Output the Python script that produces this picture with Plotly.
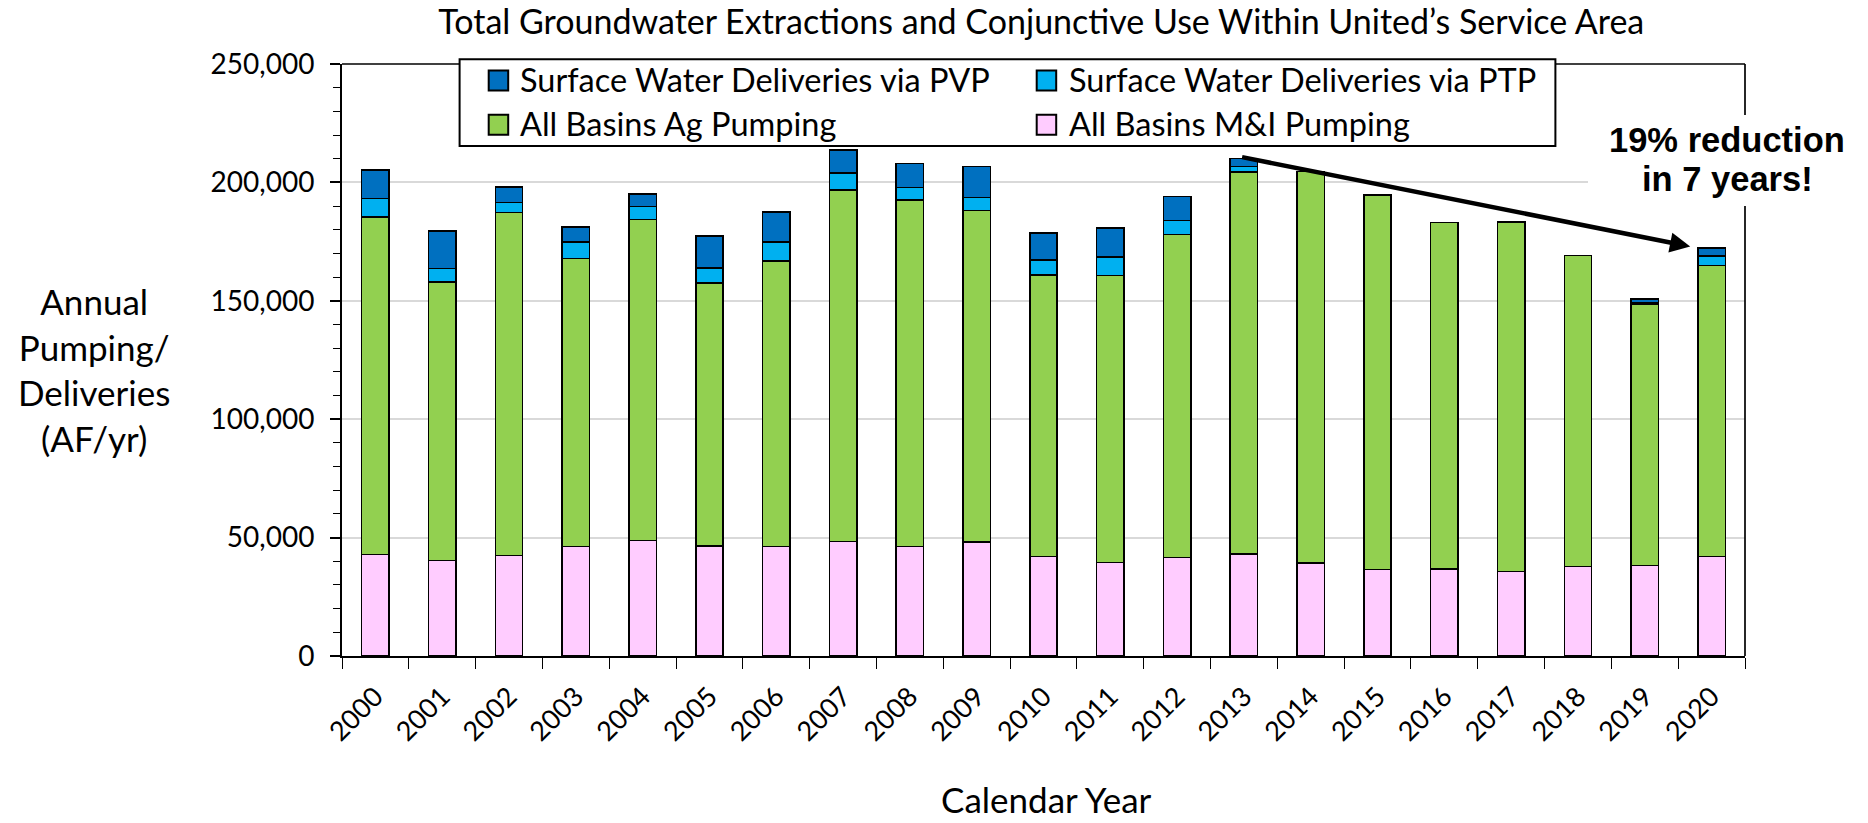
import plotly.graph_objects as go

years = list(range(2000, 2021))
mi_pumping = [42800, 40300, 42400, 46300, 48700, 46500, 46300, 48300, 46200, 48200, 42100,
              39400, 41600, 43100, 39200, 36500, 36800, 35700, 37800, 38200, 42000]
ag_pumping = [142600, 117600, 144900, 121600, 135600, 111100, 120600, 148400, 146300, 139900, 118900,
              121300, 136300, 161200, 165400, 158200, 146300, 147600, 131300, 110400, 122900]
ptp_deliveries = [7900, 5700, 4300, 6900, 5500, 6200, 8000, 7300, 5300, 5600, 6200,
                  7700, 6100, 2400, None, None, None, None, None, 700, 4100]
pvp_deliveries = [11900, 15800, 6500, 6300, 5200, 13500, 12700, 9600, 10100, 13000, 11500,
                  12300, 10000, 3500, None, None, None, None, None, 1400, 3250]

series_names = ["All Basins M&I Pumping", "All Basins Ag Pumping",
                "Surface Water Deliveries via PTP", "Surface Water Deliveries via PVP"]
series_values = [mi_pumping, ag_pumping, ptp_deliveries, pvp_deliveries]
series_colors = ["#FFCCFF", "#92D050", "#00B0F0", "#0070C0"]

y_ticks = [0, 50000, 100000, 150000, 200000, 250000]

arrow_start = (2012.95, 210800)
arrow_end = (2019.68, 172900)
callout_lines = ["19% reduction", "in 7 years!"]

CAL = "Lato, 'Open Sans', sans-serif"
ARIAL = "'Liberation Sans', Arial, sans-serif"

W, H = 1868, 823
L, R, T, B = 342, 1745, 64, 656.5


def px(x):  # page pixel -> paper x
    return (x - L) / (R - L)


def py(y):  # page pixel -> paper y
    return (B - y) / (B - T)


fig = go.Figure()
for name, vals, col in zip(series_names, series_values, series_colors):
    fig.add_trace(go.Bar(
        x=years, y=vals, name=name, width=0.41, showlegend=False,
        marker=dict(color=col, line=dict(color="black", width=1.5)),
    ))

fig.update_layout(
    width=W, height=H,
    margin=dict(l=L, r=W - R, t=T, b=H - B, pad=0),
    barmode="stack",
    plot_bgcolor="white", paper_bgcolor="white",
    font=dict(family=CAL, color="black", size=28),
    title=dict(text="Total Groundwater Extractions and Conjunctive Use Within United\u2019s Service Area",
               x=1041.3 / W, xanchor="center", y=1 - 22 / H, yanchor="middle",
               font=dict(family=CAL, size=34, color="black")),
    showlegend=False,
    xaxis=dict(range=[1999.5, 2020.5], tickmode="array", tickvals=years,
               ticktext=[str(y) for y in years], tickangle=-45, ticks="",
               ticklabelstandoff=12,
               showline=True, linecolor="black", linewidth=2, showgrid=False, zeroline=False,
               tickfont=dict(family=CAL, size=27, color="black"),
               minor=dict(tick0=1999.5, dtick=1, ticks="outside", ticklen=11,
                          tickcolor="black", tickwidth=1.2, showgrid=False)),
    yaxis=dict(range=[0, 250000], tickmode="array", tickvals=y_ticks, tickformat=",",
               ticks="outside", ticklen=10, tickcolor="black", tickwidth=1.5,
               ticklabelstandoff=10,
               showline=True, linecolor="black", linewidth=2,
               showgrid=True, gridcolor="#D9D9D9", gridwidth=2, zeroline=False,
               tickfont=dict(family=CAL, size=28, color="black"),
               minor=dict(dtick=10000, ticks="outside", ticklen=7, tickcolor="black",
                          tickwidth=1.2, showgrid=False)),
)

# top & right frame lines
fig.add_shape(type="line", xref="paper", yref="paper", x0=0, x1=1, y0=1, y1=1,
              line=dict(color="black", width=1.7), layer="above")
fig.add_shape(type="line", xref="paper", yref="paper", x0=1, x1=1, y0=0, y1=1,
              line=dict(color="black", width=1.7), layer="above")

# white box behind the callout text
fig.add_shape(type="rect", xref="paper", yref="paper",
              x0=px(1588), x1=px(1868), y0=py(206), y1=py(115),
              fillcolor="white", line=dict(width=0), layer="above")

# legend (box, swatches, labels)
fig.add_shape(type="rect", xref="paper", yref="paper",
              x0=px(459.6), x1=px(1555.4), y0=py(146), y1=py(59.3),
              fillcolor="white", line=dict(color="black", width=2), layer="above")
legend_order = [3, 2, 1, 0]  # PVP, PTP / Ag, M&I
col_sym_x = [488.7, 1036.7]
col_txt_x = [517.8, 1066.5]
row_y = [80.5, 124.8]
for k, idx in enumerate(legend_order):
    r, c = divmod(k, 2)
    fig.add_shape(type="rect", xref="paper", yref="paper",
                  x0=px(col_sym_x[c]), x1=px(col_sym_x[c] + 19.5),
                  y0=py(row_y[r] + 10), y1=py(row_y[r] - 10),
                  fillcolor=series_colors[idx], line=dict(color="black", width=2), layer="above")
    fig.add_annotation(text=series_names[idx], xref="paper", yref="paper",
                       x=px(col_txt_x[c]), y=py(row_y[r] - 1), xanchor="left", yanchor="middle",
                       showarrow=False, font=dict(family=CAL, size=32.5, color="black"))

# axis titles
fig.add_annotation(text="Annual<br>Pumping/<br>Deliveries<br>(AF/yr)", xref="paper", yref="paper",
                   x=px(94), y=py(370), xanchor="center", yanchor="middle",
                   showarrow=False, font=dict(family=CAL, size=35, color="black"), align="center")
fig.add_annotation(text="Calendar Year", xref="paper", yref="paper",
                   x=px(1046.7), y=py(800), xanchor="center", yanchor="middle",
                   showarrow=False, font=dict(family=CAL, size=35, color="black"))

# trend arrow
fig.add_annotation(x=arrow_end[0], y=arrow_end[1], ax=arrow_start[0], ay=arrow_start[1],
                   xref="x", yref="y", axref="x", ayref="y", text="", showarrow=True,
                   arrowhead=2, arrowsize=0.9, arrowwidth=4.5, arrowcolor="black",
                   standoff=0, startstandoff=0)

# callout text
for line_text, yc in zip(callout_lines, [140, 179.5]):
    fig.add_annotation(text="<b>" + line_text + "</b>", xref="paper", yref="paper",
                       x=px(1727), y=py(yc), xanchor="center", yanchor="middle",
                       showarrow=False, font=dict(family=ARIAL, size=34.5, color="black"))

fig.write_html("out.html")
